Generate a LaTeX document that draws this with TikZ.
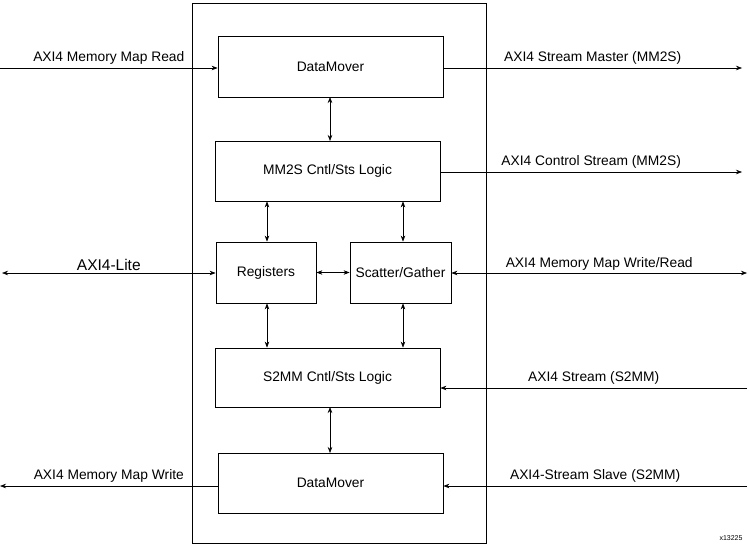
\documentclass[tikz,border=0pt]{standalone}
\usepackage{fontspec}
\setmainfont{Liberation Sans}
\usetikzlibrary{arrows.meta}
\begin{document}
\begin{tikzpicture}[x=1pt,y=-1pt,
  box/.style={draw,line width=0.8pt,inner sep=0pt},
  lbl/.style={font=\fontsize{13.8}{15}\selectfont},
  arr/.style={line width=0.6pt,-{Stealth[length=6pt,width=4.5pt]}},
  darr/.style={line width=0.6pt,{Stealth[length=6pt,width=4.5pt]}-{Stealth[length=6pt,width=4.5pt]}}]
\useasboundingbox (0,0) rectangle (749,546);
\node[box,minimum width=294pt,minimum height=540pt] (outer) at (339,273) {};
\node[box,lbl,minimum width=225pt,minimum height=61pt] (dm1) at (330.5,66.5) {DataMover};
\node[box,lbl,minimum width=225pt,minimum height=60pt] (mm2s) at (327.5,171) {MM2S Cntl/Sts Logic};
\node[box,lbl,minimum width=100pt,minimum height=61pt] (reg) at (266,272.5) {Registers};
\node[box,lbl,minimum width=101pt,minimum height=61pt] (sg) at (400.5,272.5) {Scatter/Gather};
\node[box,lbl,minimum width=225pt,minimum height=59pt] (s2mm) at (327.5,377.5) {S2MM Cntl/Sts Logic};
\node[box,lbl,minimum width=225pt,minimum height=60pt] (dm2) at (330.5,483) {DataMover};
\coordinate (l1) at (0,68); \coordinate (r1) at (742,68);
\coordinate (r2) at (742,172);
\coordinate (l3) at (2,273); \coordinate (r3) at (747,273);
\coordinate (r4) at (747,388);
\coordinate (l5) at (0,486); \coordinate (r5) at (747,486);
\draw[arr] (l1) -- (dm1.west|-l1) node[lbl,midway,above=0pt] {AXI4 Memory Map Read};
\draw[arr] (dm1.east|-r1) -- (r1) node[lbl,midway,above=0pt] {AXI4 Stream Master (MM2S)};
\draw[darr] (330,97) -- (330,141);
\draw[arr] (mm2s.east|-r2) -- (r2) node[lbl,midway,above=0pt] {AXI4 Control Stream (MM2S)};
\draw[darr] (mm2s.south-|267,0) -- (reg.north-|267,0);
\draw[darr] (mm2s.south-|403,0) -- (sg.north-|403,0);
\draw[darr] (l3) -- (reg.west|-l3) node[font=\fontsize{15.5}{17}\selectfont,midway,above=-1pt] {AXI4-Lite};
\draw[darr] (reg.east) -- (sg.west);
\draw[darr] (sg.east|-r3) -- (r3) node[lbl,midway,above=-1pt] {AXI4 Memory Map Write/Read};
\draw[darr] (reg.south-|267,0) -- (s2mm.north-|267,0);
\draw[darr] (sg.south-|403,0) -- (s2mm.north-|403,0);
\draw[arr] (r4) -- (s2mm.east|-r4) node[lbl,midway,above=0pt] {AXI4 Stream (S2MM)};
\draw[darr] (330,407) -- (330,453);
\draw[arr] (dm2.west|-l5) -- (l5) node[lbl,midway,above=0pt] {AXI4 Memory Map Write};
\draw[arr] (r5) -- (dm2.east|-r5) node[lbl,midway,above=0pt] {AXI4-Stream Slave (S2MM)};
\node[font=\fontsize{7}{8}\selectfont] (tag) at (731,538) {x13225};
\end{tikzpicture}
\end{document}
